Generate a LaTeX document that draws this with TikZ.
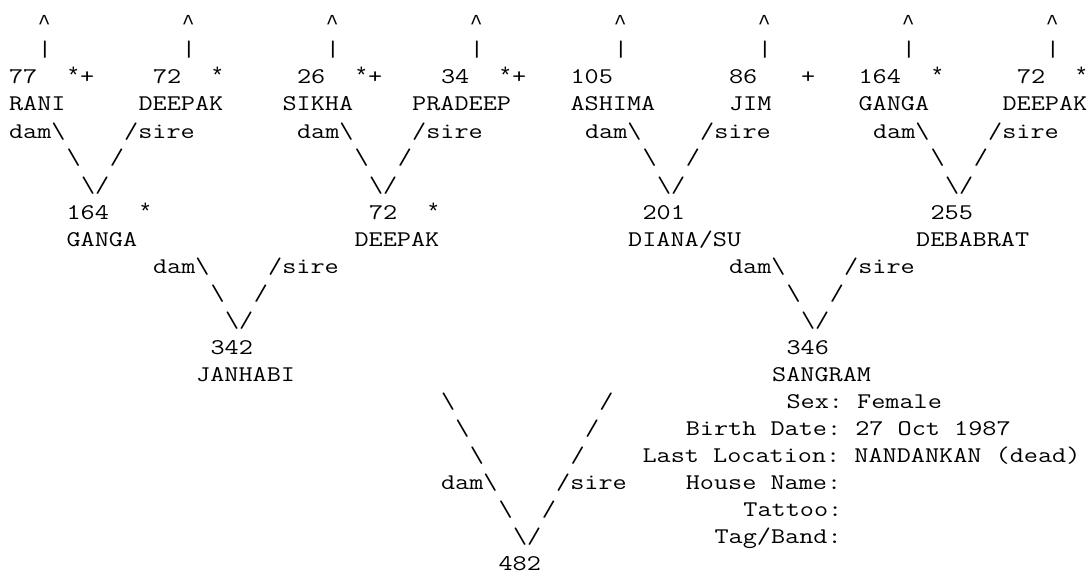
\documentclass[tikz,border=0pt]{standalone}
\usepackage{fontspec}
\newfontfamily\cour[FakeStretch=1.2245]{Latin Modern Mono}
\newfontfamily\libm{Liberation Mono}
\tikzset{txt/.style={inner sep=0pt, outer sep=0pt, anchor=base west,
  font=\cour\fontsize{16.8pt}{20pt}\selectfont, text=black}}
\newcommand\W[4]{\node[txt] (#1) at ({6.75pt+10.8pt*(#2)},{-22.5pt-20.25pt*(#3)}) {#4};}
\newcommand\bs{\textbackslash}
\newcommand\st{{\libm\fontsize{17pt}{20pt}\selectfont *}}
\newcommand\car{{\libm\fontsize{16pt}{20pt}\selectfont \textasciicircum}}
\begin{document}
\frenchspacing
\begin{tikzpicture}
\useasboundingbox (0,0) rectangle (818.25pt,-430.5pt);
% line 0 and 1: arrows up
\foreach \c [count=\i] in {2,12,22,32,42,52,62,72}{
  \W{up\i}{\c}{0}{\car}
  \W{bar\i}{\c}{1}{|}
}
% line 2
\W{n77}{0}{2}{77}\W{f77}{4}{2}{\st+}
\W{n72a}{10}{2}{72}\W{f72a}{14}{2}{\st}
\W{n26}{20}{2}{26}\W{f26}{24}{2}{\st+}
\W{n34}{30}{2}{34}\W{f34}{34}{2}{\st+}
\W{n105}{39}{2}{105}
\W{n86}{50}{2}{86}\W{f86}{55}{2}{+}
\W{n164a}{59}{2}{164}\W{f164a}{64}{2}{\st}
\W{n72b}{70}{2}{72}\W{f72b}{74}{2}{\st}
% line 3
\W{rani}{0}{3}{RANI}
\W{deepaka}{9}{3}{DEEPAK}
\W{sikha}{19}{3}{SIKHA}
\W{pradeep}{28}{3}{PRADEEP}
\W{ashima}{39}{3}{ASHIMA}
\W{jim}{50}{3}{JIM}
\W{gangaa}{59}{3}{GANGA}
\W{deepakb}{69}{3}{DEEPAK}
% line 4
\foreach \d [count=\i] in {0,20,40,60}{
  \W{dam\i}{\d}{4}{dam\bs}
  \W{sire\i}{\d+8}{4}{/sire}
  \W{ba\i}{\d+4}{5}{\bs}
  \W{fa\i}{\d+7}{5}{/}
  \W{v\i}{\d+5}{6}{\bs/}
}
% line 7-8
\W{n164b}{4}{7}{164}\W{f164b}{9}{7}{\st}
\W{n72c}{25}{7}{72}\W{f72c}{29}{7}{\st}
\W{n201}{44}{7}{201}
\W{n255}{64}{7}{255}
\W{gangab}{4}{8}{GANGA}
\W{deepakc}{24}{8}{DEEPAK}
\W{diana}{43}{8}{DIANA/SU}
\W{debabrat}{63}{8}{DEBABRAT}
% line 9-11
\foreach \d [count=\i] in {10,50}{
  \W{damb\i}{\d}{9}{dam\bs}
  \W{sireb\i}{\d+8}{9}{/sire}
  \W{bb\i}{\d+4}{10}{\bs}
  \W{fb\i}{\d+7}{10}{/}
  \W{vb\i}{\d+5}{11}{\bs/}
}
% line 12-13
\W{n342}{14}{12}{342}
\W{n346}{54}{12}{346}
\W{janhabi}{13}{13}{JANHABI}
\W{sangram}{53}{13}{SANGRAM}
% final V
\W{bc1}{30}{14}{\bs}\W{fc1}{41}{14}{/}
\W{bc2}{31}{15}{\bs}\W{fc2}{40}{15}{/}
\W{bc3}{32}{16}{\bs}\W{fc3}{39}{16}{/}
\W{damc}{30}{17}{dam\bs}\W{sirec}{38}{17}{/sire}
\W{bc5}{34}{18}{\bs}\W{fc5}{37}{18}{/}
\W{vc}{35}{19}{\bs/}
\W{n482}{34}{20}{482}
% details
\W{sex}{54}{14}{Sex: Female}
\W{birth}{47}{15}{Birth Date: 27 Oct 1987}
\W{loc}{44}{16}{Last Location: NANDANKAN (dead)}
\W{house}{47}{17}{House Name:}
\W{tattoo}{51}{18}{Tattoo:}
\W{tag}{49}{19}{Tag/Band:}
\end{tikzpicture}
\end{document}
